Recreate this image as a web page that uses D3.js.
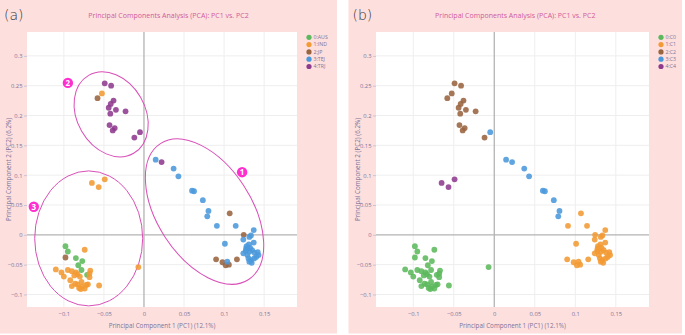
<!DOCTYPE html>
<html>
<head>
<meta charset="utf-8">
<script src="https://cdn.jsdelivr.net/npm/d3@7"></script>
<style>
  body { margin: 0; background: #fff; }
  svg { display: block; font-family: "Open Sans", sans-serif; }
</style>
</head>
<body>
<div id="chart"></div>
<script>
const width = 685, height = 335;

// PC scores (same samples in both panels)
const pc1 = [
  // upper group
  -0.049, -0.041, -0.0525, -0.058, -0.038, -0.0415, -0.044, -0.035, -0.023, -0.042,
  -0.043, -0.0365, -0.039, -0.005, -0.012,
  // middle trio
  -0.065, -0.0565, -0.049,
  // diagonal
  0.0146, 0.022, 0.037, 0.043, 0.060, 0.0625, 0.0735, 0.0805, 0.079,
  // lower right
  0.107, 0.091, 0.1145, 0.137, 0.1245, 0.1335, 0.1315, 0.124, 0.137, 0.101,
  0.090, 0.098, 0.102, 0.106, 0.104, 0.116,
  0.128, 0.131, 0.129, 0.1325, 0.127, 0.1315, 0.135, 0.138, 0.142, 0.143,
  0.140, 0.129, 0.1305, 0.1335, 0.1375, 0.1345, 0.1315, 0.1275, 0.124,
  // lower left
  -0.098, -0.095, -0.085, -0.077, -0.082, -0.078, -0.071, -0.098,
  -0.074, -0.110, -0.103, -0.095, -0.100, -0.090, -0.085, -0.083, -0.087, -0.067,
  -0.068, -0.092, -0.068, -0.090, -0.083, -0.081, -0.077, -0.072, -0.070, -0.056,
  -0.078, -0.074, -0.086, -0.079, -0.080,
  -0.007
];
const pc2 = [
  0.254, 0.250, 0.237, 0.229, 0.225, 0.2195, 0.213, 0.2095, 0.207, 0.203,
  0.184, 0.179, 0.175, 0.172, 0.163,
  0.087, 0.080, 0.093,
  0.126, 0.122, 0.111, 0.098, 0.074, 0.073, 0.058, 0.040, 0.031,
  0.036, 0.015, 0.015, 0.008, 0.000, -0.001, -0.0035, -0.008, -0.013, -0.015,
  -0.041, -0.046, -0.051, -0.050, -0.045, -0.041,
  -0.019, -0.016, -0.0235, -0.022, -0.027, -0.0285, -0.0255, -0.030, -0.029, -0.034,
  -0.037, -0.034, -0.0395, -0.0425, -0.0395, -0.047, -0.045, -0.023, -0.031,
  -0.019, -0.028, -0.039, -0.044, -0.051, -0.059, -0.067, -0.038,
  -0.025, -0.058, -0.063, -0.059, -0.070, -0.061, -0.063, -0.066, -0.068, -0.060,
  -0.065, -0.076, -0.071, -0.086, -0.083, -0.089, -0.087, -0.084, -0.083, -0.085,
  -0.079, -0.090, -0.082, -0.091, -0.070,
  -0.054
];
// panel (a): country label, panel (b): cluster label
const countryId = [
  4, 4, 1, 2, 4, 4, 4, 4, 4, 4, 4, 4, 4, 4, 4,
  1, 1, 1,
  3, 4, 3, 3, 3, 3, 3, 3, 3,
  2, 3, 3, 3, 2, 3, 3, 3, 3, 3,
  2, 2, 2, 2, 3, 2,
  3, 3, 3, 3, 3, 3, 3, 3, 3, 3,
  3, 3, 3, 3, 3, 3, 3, 3, 3,
  0, 0, 0, 0, 0, 0, 0, 2,
  1, 1, 1, 1, 1, 1, 1, 1, 1, 1,
  1, 1, 1, 1, 1, 1, 1, 1, 1, 1,
  1, 1, 1, 1, 1,
  1
];
const clusterId = [
  2, 2, 2, 2, 2, 2, 2, 2, 2, 2, 2, 2, 2, 3, 2,
  4, 4, 4,
  3, 3, 3, 3, 3, 3, 3, 3, 3,
  1, 1, 1, 1, 1, 1, 1, 1, 1, 1,
  1, 1, 1, 1, 1, 1,
  1, 1, 1, 1, 1, 1, 1, 1, 1, 1,
  1, 1, 1, 1, 1, 1, 1, 1, 1,
  0, 0, 0, 0, 0, 0, 0, 0,
  0, 0, 0, 0, 0, 0, 0, 0, 0, 0,
  0, 0, 0, 0, 0, 0, 0, 0, 0, 0,
  0, 0, 0, 0, 0,
  0
];

const countryNames = ["0:AUS", "1:IND", "2:JP", "3:TEJ", "4:TRJ"];
const clusterNames = ["0:C0", "1:C1", "2:C2", "3:C3", "4:C4"];
const palette = ["#5cb85c", "#f39a33", "#9a6440", "#4a98dc", "#8e3a8e"];

const xTicks = [-0.1, -0.05, 0, 0.05, 0.1, 0.15];
const yTicks = [-0.1, -0.05, 0, 0.05, 0.1, 0.15, 0.2, 0.25, 0.3];

// group outlines for panel (a): centre in data units, radii (px), tilt (deg)
const groupCx = [0.0756, -0.041, -0.069];
const groupCy = [0.039, 0.202, -0.006];
const groupRx = [81, 45, 54];
const groupRy = [47, 34, 67.5];
const groupTilt = [57, 60, 0];
const badgeText = ["1", "2", "3"];
const badgeX = [0.1225, -0.095, -0.1375];
const badgeY = [0.105, 0.2547, 0.047];

const titleText = "Principal Components Analysis (PCA): PC1 vs. PC2";
const xTitle = "Principal Component 1 (PC1) (12.1%)";
const yTitle = "Principal Component 2 (PC2) (6.2%)";

const tickColor = "#7d7399";
const pink = "#fde0de";

const svg = d3.select("#chart").append("svg")
  .attr("width", width)
  .attr("height", height);

const panels = [
  { tag: "(a)", left: 0, w: 337, plotL: 27, plotR: 297, labels: countryId, names: countryNames, outlines: true },
  { tag: "(b)", left: 348.5, w: 333.5, plotL: 376, plotR: 649, labels: clusterId, names: clusterNames, outlines: false }
];
const plotT = 32, plotB = 307;

panels.forEach(p => drawPanel(p));

function drawPanel(p) {
  const g = svg.append("g");

  g.append("rect")
    .attr("x", p.left).attr("y", 0)
    .attr("width", p.w).attr("height", 333.5)
    .attr("fill", pink);

  g.append("rect")
    .attr("x", p.plotL).attr("y", plotT)
    .attr("width", p.plotR - p.plotL).attr("height", plotB - plotT)
    .attr("fill", "#fff");

  const x = d3.scaleLinear().domain([-0.146, 0.191]).range([p.plotL, p.plotR]);
  const y = d3.scaleLinear().domain([-0.121, 0.34]).range([plotB, plotT]);

  // grid
  g.selectAll(".gx").data(xTicks.filter(d => d !== 0)).join("line")
    .attr("x1", d => x(d)).attr("x2", d => x(d))
    .attr("y1", plotT).attr("y2", plotB)
    .attr("stroke", "#eeeeee").attr("stroke-width", 1);
  g.selectAll(".gy").data(yTicks.filter(d => d !== 0)).join("line")
    .attr("y1", d => y(d)).attr("y2", d => y(d))
    .attr("x1", p.plotL).attr("x2", p.plotR)
    .attr("stroke", "#eeeeee").attr("stroke-width", 1);

  // zero lines
  g.append("line")
    .attr("x1", x(0)).attr("x2", x(0)).attr("y1", plotT).attr("y2", plotB)
    .attr("stroke", "#b3b3b3").attr("stroke-width", 1.3);
  g.append("line")
    .attr("y1", y(0)).attr("y2", y(0)).attr("x1", p.plotL).attr("x2", p.plotR)
    .attr("stroke", "#b3b3b3").attr("stroke-width", 1.3);

  // axes
  const fmt = d3.format("~g");
  const yAxis = g.append("g")
    .attr("transform", `translate(${p.plotL},0)`)
    .call(d3.axisLeft(y).tickValues(yTicks).tickFormat(fmt).tickSize(3).tickPadding(1.5));
  const xAxis = g.append("g")
    .attr("transform", `translate(0,${plotB})`)
    .call(d3.axisBottom(x).tickValues(xTicks).tickFormat(fmt).tickSize(0).tickPadding(5));
  [xAxis, yAxis].forEach(a => {
    a.select(".domain").remove();
    a.selectAll(".tick line").attr("stroke", "#c9c3d6");
    a.selectAll("text")
      .attr("fill", tickColor)
      .style("font-size", "5.8px")
      .style("font-family", "'Open Sans', sans-serif");
  });

  // axis titles
  g.append("text")
    .attr("x", (p.plotL + p.plotR) / 2).attr("y", 328)
    .attr("text-anchor", "middle")
    .attr("fill", tickColor)
    .style("font-size", "6.3px")
    .text(xTitle);
  g.append("text")
    .attr("transform", `translate(${p.plotL - 16.5},${(plotT + plotB) / 2}) rotate(-90)`)
    .attr("text-anchor", "middle")
    .attr("fill", tickColor)
    .style("font-size", "6.3px")
    .text(yTitle);

  // titles
  g.append("text")
    .attr("x", p.left + p.w / 2).attr("y", 17.5)
    .attr("text-anchor", "middle")
    .attr("fill", "#cf5a9c")
    .style("font-size", "7px")
    .text(titleText);
  g.append("text")
    .attr("x", p.left + 4).attr("y", 20)
    .attr("fill", "#333")
    .style("font-size", "14px")
    .style("font-family", "'DejaVu Sans', sans-serif")
    .style("font-weight", "300")
    .text(p.tag);

  // outlines and numbered badges
  if (p.outlines) {
    groupCx.forEach((cx, i) => {
      g.append("ellipse")
        .attr("transform", `translate(${x(cx)},${y(groupCy[i])}) rotate(${groupTilt[i]})`)
        .attr("rx", groupRx[i]).attr("ry", groupRy[i])
        .attr("fill", "none")
        .attr("stroke", "#d94fb8")
        .attr("stroke-width", 1);
    });
    badgeText.forEach((t, i) => {
      g.append("circle")
        .attr("cx", x(badgeX[i])).attr("cy", y(badgeY[i]))
        .attr("r", 5.2)
        .attr("fill", "#ff2fcf");
      g.append("text")
        .attr("x", x(badgeX[i])).attr("y", y(badgeY[i]) + 2.8)
        .attr("text-anchor", "middle")
        .attr("fill", "#fff")
        .style("font-size", "8px")
        .style("font-weight", "bold")
        .text(t);
    });
  }

  // points, drawn trace by trace
  const idx = d3.range(pc1.length);
  d3.range(p.names.length).forEach(k => {
    g.append("g").selectAll("circle")
      .data(idx.filter(i => p.labels[i] === k))
      .join("circle")
      .attr("cx", i => x(pc1[i]))
      .attr("cy", i => y(pc2[i]))
      .attr("r", 2.9)
      .attr("fill", palette[k])
      .attr("fill-opacity", 0.88);
  });

  // legend
  const legend = g.append("g")
    .attr("transform", `translate(${p.plotR + 12},37.3)`);
  p.names.forEach((name, k) => {
    const row = legend.append("g").attr("transform", `translate(0,${k * 7.3})`);
    row.append("circle").attr("r", 2.6).attr("fill", palette[k]);
    row.append("text")
      .attr("x", 4.5).attr("y", 1.8)
      .attr("fill", tickColor)
      .style("font-size", "5.2px")
      .text(name);
  });
}
</script>
</body>
</html>
